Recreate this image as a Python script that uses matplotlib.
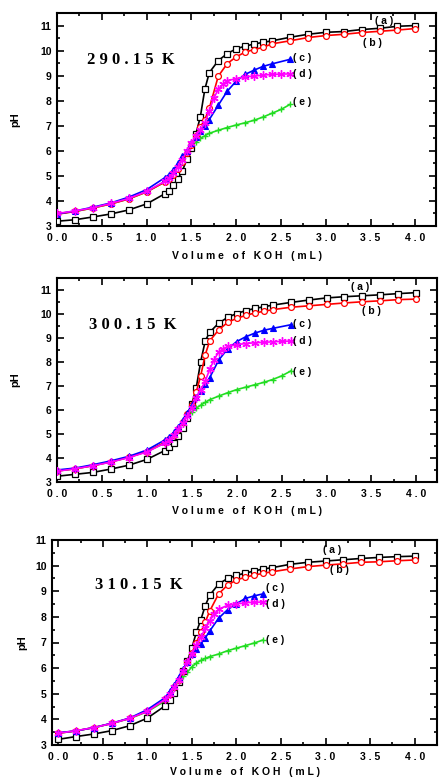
import matplotlib
matplotlib.use("Agg")
import matplotlib.pyplot as plt
from matplotlib.ticker import MultipleLocator, FuncFormatter

plt.rcParams['font.family'] = ['Liberation Sans', 'DejaVu Sans']

# ---------------- data ----------------
X_AB = [0, 0.2, 0.4, 0.6, 0.8, 1.0, 1.2, 1.25, 1.3, 1.35, 1.4, 1.45, 1.5, 1.55, 1.6, 1.65, 1.7,
        1.8, 1.9, 2.0, 2.1, 2.2, 2.3, 2.4, 2.6, 2.8, 3.0, 3.2, 3.4, 3.6, 3.8, 4.0]
X_C = [0, 0.2, 0.4, 0.6, 0.8, 1.0, 1.2, 1.25, 1.3, 1.35, 1.4, 1.45, 1.5, 1.55, 1.6, 1.65, 1.7,
       1.8, 1.9, 2.0, 2.1, 2.2, 2.3, 2.4, 2.6]
X_D = [0, 0.2, 0.4, 0.6, 0.8, 1.0, 1.2, 1.25, 1.3, 1.35, 1.4, 1.45, 1.5, 1.55, 1.6, 1.65, 1.7,
       1.75, 1.8, 1.85, 1.9, 2.0, 2.1, 2.2, 2.3, 2.4, 2.5, 2.6]
X_E = [0, 0.2, 0.4, 0.6, 0.8, 1.0, 1.2, 1.25, 1.3, 1.35, 1.4, 1.45, 1.5, 1.55, 1.6, 1.65, 1.7,
       1.8, 1.9, 2.0, 2.1, 2.2, 2.3, 2.4, 2.5, 2.6]
X_C3 = [0, 0.2, 0.4, 0.6, 0.8, 1.0, 1.2, 1.25, 1.3, 1.35, 1.4, 1.45, 1.5, 1.55, 1.6, 1.65, 1.7,
        1.8, 1.9, 2.0, 2.1, 2.2, 2.3]
X_D3 = [0, 0.2, 0.4, 0.6, 0.8, 1.0, 1.2, 1.25, 1.3, 1.35, 1.4, 1.45, 1.5, 1.55, 1.6, 1.65, 1.7,
        1.75, 1.8, 1.9, 2.0, 2.1, 2.2, 2.3]
X_E3 = [0, 0.2, 0.4, 0.6, 0.8, 1.0, 1.2, 1.25, 1.3, 1.35, 1.4, 1.45, 1.5, 1.55, 1.6, 1.65, 1.7,
        1.8, 1.9, 2.0, 2.1, 2.2, 2.3]

# 290.15 K
a290 = [3.19, 3.25, 3.36, 3.48, 3.64, 3.88, 4.28, 4.41, 4.62, 4.89, 5.20, 5.68, 6.10, 6.67, 7.36, 8.46, 9.12,
        9.60, 9.88, 10.07, 10.18, 10.26, 10.33, 10.39, 10.53, 10.65, 10.73, 10.76, 10.84, 10.89, 10.97, 11.00]
b290 = [3.47, 3.58, 3.72, 3.88, 4.08, 4.36, 4.75, 4.88, 5.05, 5.28, 5.55, 5.90, 6.25, 6.60, 6.95, 7.25, 7.70,
        8.98, 9.48, 9.75, 9.94, 10.04, 10.13, 10.27, 10.39, 10.52, 10.60, 10.65, 10.72, 10.77, 10.82, 10.88]
c290 = [3.48, 3.60, 3.75, 3.92, 4.15, 4.45, 4.92, 5.05, 5.25, 5.50, 5.78, 6.00, 6.30, 6.55, 6.80, 7.00, 7.25,
        7.82, 8.38, 8.78, 9.05, 9.22, 9.37, 9.47, 9.65]
d290 = [3.50, 3.60, 3.73, 3.90, 4.10, 4.38, 4.78, 4.90, 5.10, 5.35, 5.65, 6.00, 6.30, 6.60, 6.85, 7.10, 7.60,
        8.10, 8.45, 8.65, 8.80, 8.88, 8.95, 8.98, 9.02, 9.05, 9.06, 9.07]
e290 = [3.48, 3.58, 3.72, 3.88, 4.08, 4.36, 4.75, 4.88, 5.05, 5.28, 5.55, 5.88, 6.18, 6.35, 6.50, 6.60, 6.70,
        6.82, 6.93, 7.03, 7.12, 7.22, 7.35, 7.50, 7.65, 7.85]

# 300.15 K
a300 = [3.24, 3.32, 3.40, 3.54, 3.70, 3.94, 4.31, 4.45, 4.64, 4.90, 5.23, 5.65, 6.23, 6.93, 8.02, 8.88, 9.24,
        9.62, 9.86, 10.02, 10.14, 10.23, 10.30, 10.37, 10.48, 10.58, 10.67, 10.72, 10.76, 10.80, 10.85, 10.89]
b300 = [3.46, 3.55, 3.68, 3.84, 4.03, 4.27, 4.65, 4.78, 4.97, 5.22, 5.50, 5.82, 6.20, 6.75, 7.43, 8.30, 8.88,
        9.34, 9.65, 9.82, 9.94, 10.04, 10.11, 10.18, 10.28, 10.34, 10.40, 10.46, 10.51, 10.55, 10.60, 10.62]
c300 = [3.50, 3.58, 3.72, 3.88, 4.07, 4.33, 4.75, 4.88, 5.07, 5.30, 5.58, 5.88, 6.22, 6.55, 6.80, 7.08, 7.35,
        8.08, 8.55, 8.85, 9.05, 9.20, 9.32, 9.40, 9.55]
d300 = [3.45, 3.55, 3.68, 3.83, 4.02, 4.25, 4.62, 4.75, 4.95, 5.20, 5.45, 5.75, 6.10, 6.50, 6.85, 7.20, 7.70,
        8.10, 8.42, 8.55, 8.65, 8.72, 8.77, 8.80, 8.82, 8.84, 8.86, 8.87]
e300 = [3.46, 3.55, 3.68, 3.84, 4.03, 4.27, 4.62, 4.75, 4.95, 5.20, 5.40, 5.65, 5.92, 6.08, 6.20, 6.32, 6.43,
        6.58, 6.72, 6.85, 6.95, 7.05, 7.15, 7.27, 7.42, 7.62]

# 310.15 K
a310 = [3.22, 3.33, 3.43, 3.56, 3.75, 4.05, 4.53, 4.76, 5.04, 5.44, 5.89, 6.29, 6.80, 7.40, 7.89, 8.44, 8.85,
        9.28, 9.50, 9.62, 9.71, 9.79, 9.87, 9.92, 10.05, 10.13, 10.18, 10.23, 10.28, 10.32, 10.35, 10.37]
b310 = [3.46, 3.55, 3.68, 3.84, 4.04, 4.32, 4.78, 4.98, 5.25, 5.55, 5.90, 6.25, 6.60, 7.00, 7.40, 7.80, 8.23,
        8.90, 9.24, 9.44, 9.55, 9.63, 9.70, 9.76, 9.87, 9.96, 10.02, 10.07, 10.13, 10.15, 10.19, 10.22]
c310 = [3.48, 3.55, 3.68, 3.85, 4.05, 4.38, 4.85, 5.10, 5.35, 5.65, 5.95, 6.25, 6.55, 6.75, 6.95, 7.18, 7.45,
        7.95, 8.28, 8.52, 8.72, 8.82, 8.90]
d310 = [3.46, 3.56, 3.68, 3.84, 4.04, 4.32, 4.78, 4.98, 5.25, 5.55, 5.90, 6.25, 6.55, 6.90, 7.20, 7.55, 7.85,
        8.10, 8.30, 8.45, 8.50, 8.55, 8.57, 8.58]
e310 = [3.46, 3.55, 3.68, 3.84, 4.03, 4.30, 4.72, 4.95, 5.20, 5.45, 5.70, 5.85, 6.05, 6.20, 6.30, 6.38, 6.45,
        6.55, 6.68, 6.78, 6.88, 6.98, 7.10]

TEMPS = ["290.15 K", "300.15 K", "310.15 K"]
CURVE_LABELS = ["(a)", "(b)", "(c)", "(d)", "(e)"]
XLABEL = "Volume of KOH (mL)"
YLABEL = "pH"

panels = [
    dict(temp=TEMPS[0], a=(X_AB, a290), b=(X_AB, b290), c=(X_C, c290), d=(X_D, d290), e=(X_E, e290),
         ylim=(3, 11.5), xlim=(0, 4.23),
         lab=[(3.55, 11.19), (3.41, 10.32), (2.63, 9.70), (2.63, 9.08), (2.63, 7.96)],
         title_xy=(0.34, 9.62)),
    dict(temp=TEMPS[1], a=(X_AB, a300), b=(X_AB, b300), c=(X_C, c300), d=(X_D, d300), e=(X_E, e300),
         ylim=(3, 11.5), xlim=(0, 4.23),
         lab=[(3.27, 11.12), (3.39, 10.14), (2.63, 9.60), (2.63, 8.88), (2.63, 7.60)],
         title_xy=(0.36, 9.55)),
    dict(temp=TEMPS[2], a=(X_AB, a310), b=(X_AB, b310), c=(X_C3, c310), d=(X_D3, d310), e=(X_E3, e310),
         ylim=(3, 11), xlim=(-0.07, 4.25),
         lab=[(2.97, 10.61), (3.05, 9.83), (2.33, 9.11), (2.33, 8.49), (2.33, 7.10)],
         title_xy=(0.41, 9.24)),
]

# axes rectangles in pixels: left, right, top, bottom
W, H = 445, 784
axes_px = [(57, 436, 13, 226), (57, 437, 278, 482), (52, 437, 540, 745)]
ylabel_x_px = [15, 15, 22]
xlabel_off_px = [30, 29, 27]

styles = {
    'e': dict(color='#22dd22', marker='+', ms=5, mfc='none', mew=1.0, zorder=2),
    'a': dict(color='black', marker='s', ms=4.2, mfc='white', mew=0.9, zorder=3),
    'b': dict(color='red', marker='o', ms=4.2, mfc='white', mew=0.9, zorder=4),
    'c': dict(color='#0000ff', marker='^', ms=5, mfc='#0000ff', mew=0.8, zorder=5),
    'd': dict(color='#ff00ff', marker=(6, 2, 0), ms=6, mfc='none', mew=1.0, zorder=6),
}


def spaced(s):
    return " ".join(s)


fig = plt.figure(figsize=(4.45, 7.84), dpi=100)

xfmt = FuncFormatter(lambda v, p: spaced(f"{v:.1f}"))

for p, (l, r, t, b), ylx, xlo in zip(panels, axes_px, ylabel_x_px, xlabel_off_px):
    ax = fig.add_axes([l / W, 1 - b / H, (r - l) / W, (b - t) / H])
    for key in ['e', 'a', 'b', 'c', 'd']:
        xs, ys = p[key]
        st = styles[key]
        ax.plot(xs, ys, color=st['color'], marker=st['marker'], ms=st['ms'],
                mfc=st['mfc'], mec=st['color'], mew=st['mew'], lw=1.2, zorder=st['zorder'])
    for lbl, (lx, ly) in zip(CURVE_LABELS, p['lab']):
        ax.text(lx, ly, spaced(lbl), fontsize=7.5, fontweight='bold',
                ha='left', va='center', zorder=10)
    num, unit = p['temp'].split(" ")
    ax.text(p['title_xy'][0], p['title_xy'][1], spaced(num) + "  " + unit,
            family=['Liberation Serif', 'DejaVu Serif'], fontsize=12, fontweight='bold',
            ha='left', va='center')
    ax.set_xlim(*p['xlim'])
    ax.set_ylim(*p['ylim'])
    ax.xaxis.set_major_locator(MultipleLocator(0.5))
    ax.xaxis.set_minor_locator(MultipleLocator(0.25))
    ax.yaxis.set_major_locator(MultipleLocator(1))
    ax.yaxis.set_minor_locator(MultipleLocator(0.5))
    ax.xaxis.set_major_formatter(xfmt)
    ax.tick_params(which='both', direction='in', top=True, right=True, width=1.2)
    ax.tick_params(which='major', length=5, labelsize=7.5)
    ax.tick_params(axis='x', which='major', pad=5)
    ax.tick_params(axis='y', which='major', pad=4)
    ax.tick_params(which='minor', length=2.5)
    for lab in ax.get_xticklabels() + ax.get_yticklabels():
        lab.set_fontweight('bold')
    for s in ax.spines.values():
        s.set_linewidth(1.5)
    ax.set_xlabel("   ".join(spaced(w) for w in XLABEL.split(" ")),
                  fontsize=7.5, fontweight='bold')
    ax.set_ylabel(YLABEL, fontsize=8, fontweight='bold')
    ax.xaxis.set_label_coords(0.5, -xlo / (b - t))
    ax.yaxis.set_label_coords((ylx - l) / (r - l), 0.5)
    ax.xaxis.label.set_va('center')
    ax.yaxis.label.set_va('center')

fig.savefig("out.png", dpi=100)
